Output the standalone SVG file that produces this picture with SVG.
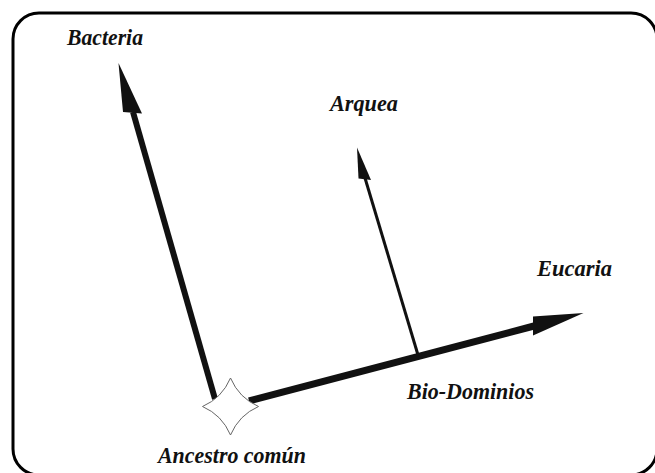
<svg xmlns="http://www.w3.org/2000/svg" width="655" height="473" viewBox="0 0 655 473">
<style>
.lbl{font-family:"Liberation Serif","Times New Roman",serif;font-weight:bold;font-style:italic;font-size:24px;fill:#111}
.ln{stroke:#111;fill:none;stroke-linecap:butt}
.hd{fill:#111;stroke:none}
</style>
<rect x="0" y="0" width="655" height="473" fill="#fff"/>
<rect x="13" y="13" width="644" height="462" rx="26" ry="26" fill="none" stroke="#000" stroke-width="3"/>
<g id="connectors">
<line class="ln" x1="215" y1="399" x2="133" y2="112" stroke-width="6"/>
<polygon class="hd" points="118.5,63 123,112 142,113.5"/>
<line class="ln" x1="418" y1="355" x2="365" y2="178" stroke-width="3"/>
<polygon class="hd" points="357,147.5 358.5,178.5 371,180"/>
<line class="ln" x1="249" y1="401" x2="534" y2="326" stroke-width="7"/>
<polygon class="hd" points="583.5,313 533,316.5 533,335.5"/>
</g>
<g id="ancestro">
<path d="M230.5,378 Q239,398 258.5,406.5 Q239,415 230.5,435 Q222,415 202.5,406.5 Q222,398 230.5,378 Z" fill="#fff" stroke="#666" stroke-width="1"/>
<text class="lbl" x="158" y="463" textLength="148" lengthAdjust="spacingAndGlyphs">Ancestro común</text>
</g>
<g id="bacteria"><text class="lbl" x="67" y="45" textLength="76" lengthAdjust="spacingAndGlyphs">Bacteria</text></g>
<g id="arquea"><text class="lbl" x="330" y="111" textLength="68" lengthAdjust="spacingAndGlyphs">Arquea</text></g>
<g id="eucaria"><text class="lbl" x="537" y="276" textLength="75" lengthAdjust="spacingAndGlyphs">Eucaria</text></g>
<g id="biodominios"><text class="lbl" x="407" y="399" textLength="127" lengthAdjust="spacingAndGlyphs">Bio-Dominios</text></g>
</svg>
